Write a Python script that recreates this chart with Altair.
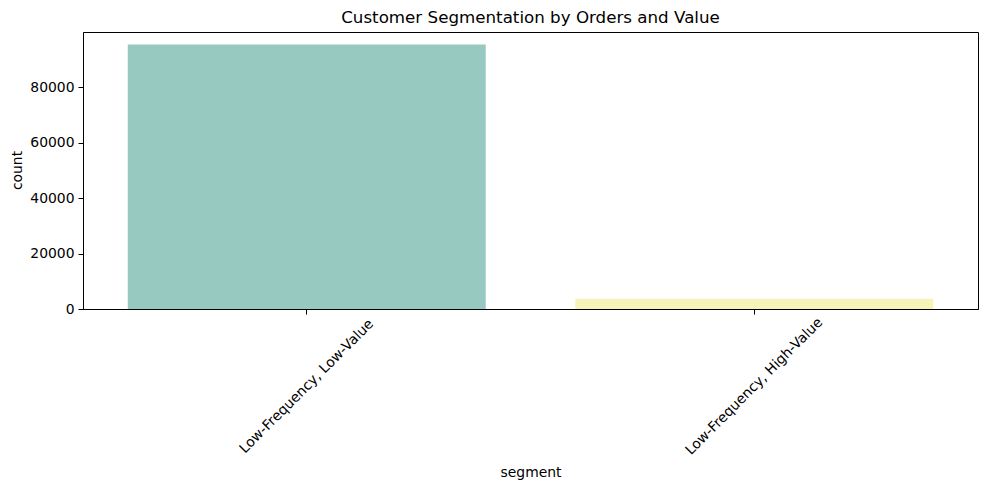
import altair as alt
import pandas as pd

segments = ["Low-Frequency, Low-Value", "Low-Frequency, High-Value"]
counts = [95400, 3700]
colors = ["#98c9c1", "#f5f5b9"]

df = pd.DataFrame({"segment": segments, "count": counts})

FONT = "DejaVu Sans"

chart = alt.Chart(df).mark_bar().encode(
    x=alt.X("segment:N", sort=segments,
            scale=alt.Scale(paddingInner=0.2, paddingOuter=0.1),
            axis=alt.Axis(title="segment", labelAngle=-45, labelAlign="center",
                          labelBaseline="middle", labelPadding=72, labelOverlap=False,
                          labelLimit=0,
                          tickSize=5, tickColor="black", domainColor="black",
                          titleBaseline="middle", titleY=163, labelColor="black",
                          titleColor="black")),
    y=alt.Y("count:Q", scale=alt.Scale(domain=[0, 99900], nice=False),
            axis=alt.Axis(title="count", values=[0, 20000, 40000, 60000, 80000],
                          format="d", grid=False, tickSize=5, tickColor="black",
                          domainColor="black", labelPadding=4,
                          titleAngle=-90, titleBaseline="middle", titleX=-66,
                          titleY=138, labelColor="black", titleColor="black")),
    color=alt.Color("segment:N", sort=segments,
                    scale=alt.Scale(domain=segments, range=colors), legend=None),
).properties(
    width=895, height=277,
    title=alt.TitleParams("Customer Segmentation by Orders and Value", fontSize=16.7,
                          font=FONT, fontWeight="normal", anchor="middle",
                          frame="group", orient="top",
                          baseline="bottom", offset=8, dy=20, color="black"),
    autosize=alt.AutoSizeParams(type="none"),
    padding={"left": 83, "top": 32, "right": 11, "bottom": 181},
).configure_view(
    stroke="black", strokeWidth=1
).configure_axis(
    labelFont=FONT, titleFont=FONT, labelFontSize=13.9, titleFontSize=13.9,
    titleFontWeight="normal", domainWidth=1, tickWidth=1
)

chart.save("out.html", embed_options={"renderer": "svg", "actions": False})
